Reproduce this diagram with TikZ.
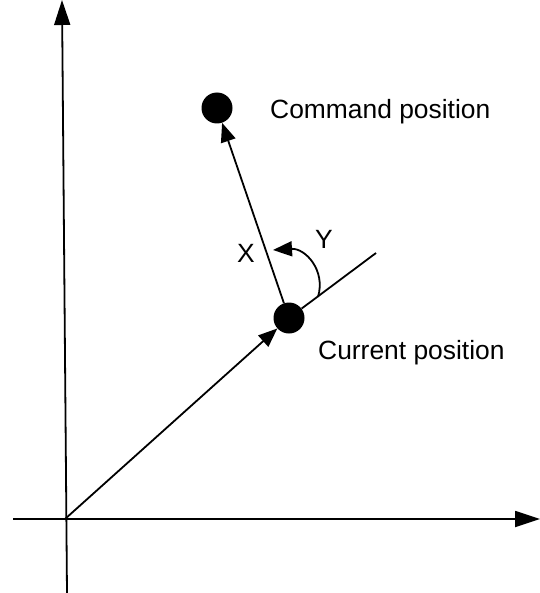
\documentclass[tikz,border=0pt]{standalone}
\usepackage{fontspec}
\setmainfont{Liberation Sans}
\usetikzlibrary{arrows.meta}
\begin{document}
\begin{tikzpicture}[x=1bp,y=-1bp,
  line/.style={line width=1.8bp},
  axisarrow/.style={-{Triangle[length=25bp,width=16bp]}},
  smallarrow/.style={-{Triangle[length=19bp,width=15bp]}},
  dot/.style={circle,fill=black,inner sep=0pt,minimum size=31bp},
  lbl/.style={inner sep=0pt,anchor=base west,font=\fontsize{26.4bp}{30bp}\selectfont}]
\useasboundingbox (0,0) rectangle (540,593);
\coordinate (O) at (65,519);
\coordinate (xs) at (13,519);
\coordinate (xe) at (540,519);
\coordinate (ys) at (67,593);
\coordinate (ye) at (62,0);
\coordinate (te) at (376,253);
\coordinate (as) at (318,297);
\coordinate (ae) at (273,250);
\node[dot] (cur) at (289,318) {};
\node[dot] (cmd) at (217,108) {};
\draw[line,axisarrow] (xs) -- (xe);
\draw[line,axisarrow] (ys) -- (ye);
\draw[line,smallarrow] (O) -- (cur);
\draw[line,smallarrow] (cur) -- (cmd);
\draw[line] (cur) -- (te);
\draw[line,smallarrow] (as) .. controls (326,270) and (305,248) .. (ae);
\node[lbl] (cmdl) at (270,119) {Command position};
\node[lbl] (curl) at (318,359) {Current position};
\node[lbl] (xl) at (237,262) {X};
\node[lbl] (yl) at (315,248) {Y};
\end{tikzpicture}
\end{document}
